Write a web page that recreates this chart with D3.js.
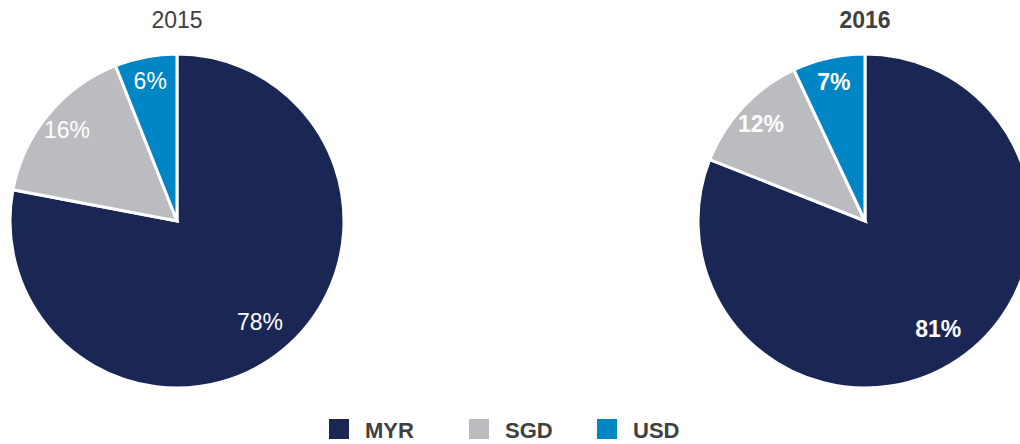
<!DOCTYPE html>
<html><head><meta charset="utf-8">
<script src="https://cdn.jsdelivr.net/npm/d3@7"></script>
<style>body{margin:0;background:#fff;}svg{display:block;}</style>
</head><body>
<svg id="c" width="1020" height="444"></svg>
<script>
const categories = ["MYR", "SGD", "USD"];
const years = ["2015", "2016"];
const values2015 = [78, 16, 6];
const values2016 = [81, 12, 7];
const colors = ["#1a2654", "#bbbcc0", "#0086c4"];

const svg = d3.select("#c");
const font = "Helvetica, 'Liberation Sans', Arial, sans-serif";
const R = 167;
const pies = [
  {year: years[0], vals: values2015, cx: 177, cy: 221, bold: false},
  {year: years[1], vals: values2016, cx: 865, cy: 221, bold: true}
];
const pie = d3.pie().sort(null).value(d => d);
const arc = d3.arc().innerRadius(0).outerRadius(R);
const bigLabel = d3.arc().innerRadius(R * 0.78).outerRadius(R * 0.78);
const smallLabel = d3.arc().innerRadius(R * 0.855).outerRadius(R * 0.855);

pies.forEach(p => {
  const g = svg.append("g").attr("transform", `translate(${p.cx},${p.cy})`);
  const arcs = pie(p.vals);
  g.selectAll("path").data(arcs).join("path")
    .attr("d", arc)
    .attr("fill", (d, i) => colors[i])
    .attr("stroke", "#fff").attr("stroke-width", 3).attr("stroke-linejoin", "miter");
  g.selectAll("text").data(arcs).join("text")
    .attr("transform", d => `translate(${(d.data > 50 ? bigLabel : smallLabel).centroid(d)})`)
    .attr("text-anchor", "middle").attr("dy", "0.36em")
    .attr("font-family", font).attr("font-size", 23)
    .attr("font-weight", p.bold ? "bold" : "normal")
    .attr("fill", "#fff")
    .text(d => d.data + "%");
  svg.append("text").attr("x", p.cx).attr("y", 28)
    .attr("text-anchor", "middle")
    .attr("font-family", font).attr("font-size", 23)
    .attr("font-weight", p.bold ? "bold" : "normal")
    .attr("fill", "#404040").text(p.year);
});

const legendX = [329, 469, 597];
const lg = svg.append("g");
categories.forEach((c, i) => {
  lg.append("rect").attr("x", legendX[i]).attr("y", 419).attr("width", 20).attr("height", 20).attr("fill", colors[i]);
  lg.append("text").attr("x", legendX[i] + 36).attr("y", 438)
    .attr("font-family", font).attr("font-size", 22).attr("font-weight", "bold")
    .attr("fill", "#404040").text(c);
});
</script>
</body></html>
